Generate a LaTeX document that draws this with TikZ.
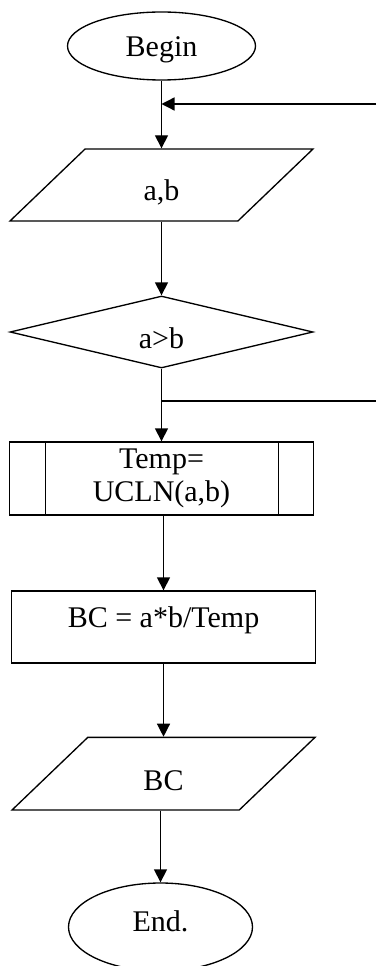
\documentclass[tikz,border=0pt]{standalone}
\usepackage{fontspec}
\setmainfont{Liberation Serif}
\usetikzlibrary{shapes.geometric,arrows.meta}

\tikzset{every picture/.style={line width=1pt}}
\tikzset{
	terminal/.style={draw, ellipse, inner sep=0pt},
	io/.style={draw, trapezium, trapezium left angle=43.8, trapezium right angle=136.2,
		trapezium stretches body=true, inner sep=0pt, minimum width=227.25pt},
	decision/.style={draw, diamond, aspect=4.2, inner sep=0pt, minimum width=227.25pt, minimum height=54pt},
	process/.style={draw, rectangle, inner sep=0pt, minimum width=228pt, minimum height=54pt},
	flow/.style={-{Triangle[length=9.75pt,width=9.75pt]}},
	text drop/.style={text height=#1, text depth=0pt}
}

\begin{document}
\begin{tikzpicture}[x=0.75pt,y=0.75pt,yscale=-1,xscale=1,font=\fontsize{22.5pt}{24.5pt}\selectfont]
	\useasboundingbox (0,0) rectangle (376,966);

	%Shape: Ellipse
	\node[terminal, minimum width=141pt, minimum height=51pt, text drop=16.5pt] (begin) at (161.5,46) {Begin};
	%Shape: Parallelogram
	\node[io, text height=38.8pt, text depth=15.2pt] (input) at (161.5,185) {a,b};
	%Shape: Diamond
	\node[decision, text drop=24.5pt] (cond) at (161.5,332) {a>b};
	%Shape: Predefined Process
	\node[process, minimum height=54.75pt, align=center] (sub) at (161.5,478.5) {Temp=\\UCLN(a,b)};
	\draw ([xshift=27.5pt]sub.north west) -- ([xshift=27.5pt]sub.south west);
	\draw ([xshift=-27pt]sub.north east) -- ([xshift=-27pt]sub.south east);
	%Shape: Rectangle
	\node[process, text height=10pt, text depth=10pt] (calc) at (163.5,627) {BC = a*b/Temp};
	%Shape: Parallelogram
	\node[io, text height=40pt, text depth=14.5pt] (output) at (163.5,773.7) {BC};
	%Shape: Ellipse
	\node[terminal, minimum width=138pt, minimum height=66pt, text drop=6pt] (finish) at (160.5,927) {End.};

	%Straight Lines
	\draw[flow] (begin.south -| input.north) -- (input.north);
	\draw[flow] (input.south -| cond.north) -- (cond.north);
	\draw[flow] (cond.south -| sub.north) -- (sub.north);
	\draw[flow] (sub.south -| calc.north) -- (calc.north);
	\draw[flow] (calc.south -| output.north) -- (output.north);
	\draw[flow] (output.south -| finish.north) -- (finish.north);

	% loop back lines
	\coordinate (loopIn) at (376,104);
	\coordinate (loopOut) at (376,401);
	\draw[flow] (loopIn) -- (loopIn -| begin);
	\draw (loopOut -| cond) -- (loopOut);

\end{tikzpicture}
\end{document}
